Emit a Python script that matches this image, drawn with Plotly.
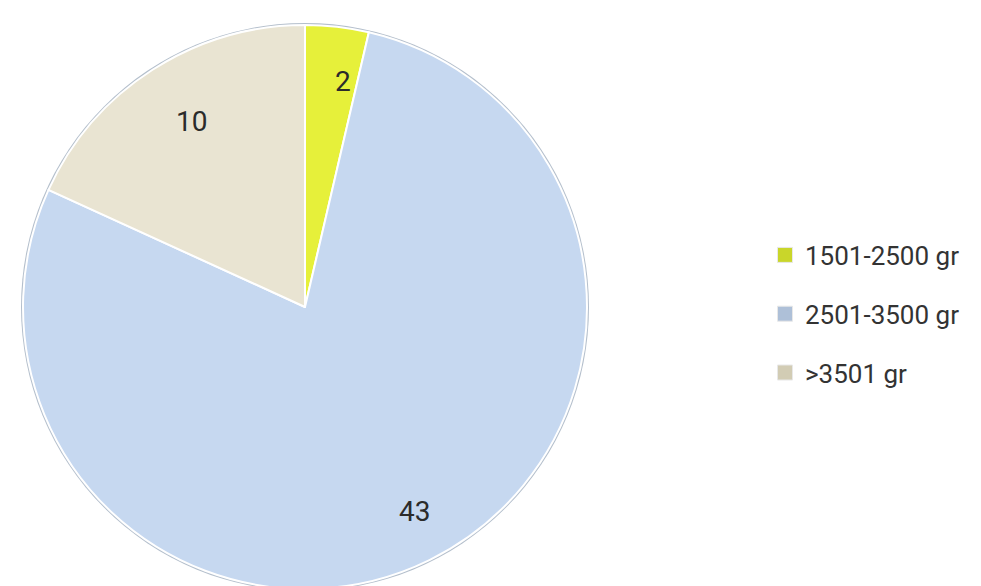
import math
import plotly.graph_objects as go

# Data
categories = ["1501-2500 gr", "2501-3500 gr", ">3501 gr"]
values = [2, 43, 10]
colors = ["#E6F03A", "#C6D8F0", "#E9E4D2"]
legend_colors = ["#C9D62A", "#AEC0D8", "#D2CCB4"]

W, H = 981, 586
CX, CY, R = 297, 299, 282  # pie centre/radius in px
RIM = 2

dom_x = [(CX - R) / W, (CX + R) / W]
dom_y = [1 - (CY + R) / H, 1 - (CY - R) / H]
rim_x = [(CX - R - RIM) / W, (CX + R + RIM) / W]
rim_y = [1 - (CY + R + RIM) / H, 1 - (CY - R - RIM) / H]

fig = go.Figure()
# subtle outer rim (shadow edge)
fig.add_trace(go.Pie(
    labels=["rim"], values=[1], marker=dict(colors=["#B4BFCC"]),
    textinfo="none", hoverinfo="skip", showlegend=False,
    domain=dict(x=rim_x, y=rim_y),
))
fig.add_trace(go.Pie(
    labels=categories, values=values, sort=False, direction="clockwise",
    rotation=0, marker=dict(colors=colors, line=dict(color="#FFFFFF", width=2)),
    textinfo="none", hoverinfo="label+value", showlegend=False,
    domain=dict(x=dom_x, y=dom_y),
))

# value labels placed at slice mid-angles
total = sum(values)
cum = 0
label_r = [0.87, 0.88, 0.86]
for v, rf in zip(values, label_r):
    mid = (cum + v / 2) / total * 2 * math.pi
    cum += v
    px = CX + rf * R * math.sin(mid)
    py = CY - rf * R * math.cos(mid)
    fig.add_annotation(x=px / W, y=1 - py / H, xref="paper", yref="paper",
                       text=str(v), showarrow=False,
                       font=dict(family="Roboto", size=28, color="#2B2B2B"))

# legend entries
for i, (c, lc) in enumerate(zip(categories, legend_colors)):
    fig.add_trace(go.Scatter(
        x=[None], y=[None], mode="markers", name=c, legendgroup=f"g{i}",
        marker=dict(symbol="square", size=15, color=lc,
                    line=dict(color="#E8E8E8", width=1)),
    ))

fig.update_layout(
    width=W, height=H, margin=dict(l=0, r=0, t=0, b=0),
    paper_bgcolor="white", plot_bgcolor="white",
    xaxis=dict(visible=False), yaxis=dict(visible=False),
    legend=dict(x=757 / W, xanchor="left", y=1 - 306 / H, yanchor="middle",
                font=dict(family="Roboto", size=26, color="#333333"),
                tracegroupgap=22, bgcolor="rgba(0,0,0,0)"),
)

fig.write_html("out.html")
